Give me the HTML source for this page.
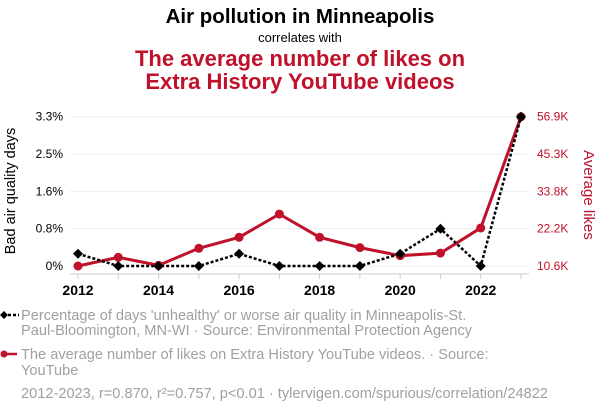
<!DOCTYPE html>
<html><head><meta charset="utf-8"><style>
body{margin:0;background:#fff;font-family:"Liberation Sans",sans-serif}
svg{display:block}
</style></head><body>
<svg id="c" width="600" height="414" viewBox="0 0 600 414">
<text x="300" y="23" text-anchor="middle" font-size="20.5" font-weight="bold" fill="#000">Air pollution in Minneapolis</text>
<text x="300" y="42" text-anchor="middle" font-size="13" fill="#000">correlates with</text>
<text x="300" y="66" text-anchor="middle" font-size="22" font-weight="bold" fill="#c0112b">The average number of likes on</text>
<text x="300" y="89" text-anchor="middle" font-size="22" font-weight="bold" fill="#c0112b">Extra History YouTube videos</text>
<g id="grid"></g>
<g id="axes"></g>
<g id="marks"></g>
<text transform="translate(15,191) rotate(-90)" text-anchor="middle" font-size="14.5" fill="#000">Bad air quality days</text>
<text transform="translate(584,195) rotate(90)" text-anchor="middle" font-size="15" fill="#c0112b">Average likes</text>
<g>
<line x1="3" y1="315" x2="19" y2="315" stroke="#000" stroke-width="2.5" stroke-dasharray="3,2"/>
<path d="M0,315 L4,311 L8,315 L4,319Z" fill="#000"/>
<text x="21" y="320" font-size="14.6" fill="#a0a0a0">Percentage of days 'unhealthy' or worse air quality in Minneapolis-St.</text>
<text x="21" y="335" font-size="14.6" fill="#a0a0a0">Paul-Bloomington, MN-WI · Source: Environmental Protection Agency</text>
</g>
<g>
<line x1="3" y1="354" x2="17" y2="354" stroke="#c0112b" stroke-width="2.5"/>
<circle cx="4" cy="354" r="3.5" fill="#c0112b"/>
<text x="21" y="359" font-size="14.6" fill="#a0a0a0">The average number of likes on Extra History YouTube videos. · Source:</text>
<text x="21" y="375" font-size="14.6" fill="#a0a0a0">YouTube</text>
</g>
<text x="21" y="398" font-size="14.6" fill="#a0a0a0">2012-2023, r=0.870, r²=0.757, p&lt;0.01 · tylervigen.com/spurious/correlation/24822</text>
</svg>
<script>
const years=[2012,2013,2014,2015,2016,2017,2018,2019,2020,2021,2022,2023];
const air=[0.27,0,0,0,0.27,0,0,0,0.27,0.82,0,3.29];
const likes=[10.6,13.3,10.8,16.1,19.5,26.7,19.5,16.3,13.8,14.6,22.4,56.9];
const leftTicks=["0%","0.8%","1.6%","2.5%","3.3%"];
const leftTickVals=[0,0.823,1.645,2.468,3.29];
const rightTicks=["10.6K","22.2K","33.8K","45.3K","56.9K"];
const rightTickVals=[10.6,22.175,33.75,45.325,56.9];
const xTicks=[2012,2014,2016,2018,2020,2022];
const NS="http://www.w3.org/2000/svg";
const X=y=>78+(y-2012)*(521-78)/11;
const YL=v=>266-v*(266-116.7)/3.29;
const YR=v=>266-(v-10.6)*(266-116.7)/(56.9-10.6);
function mk(tag,attrs,parent){const e=document.createElementNS(NS,tag);for(const k in attrs)e.setAttribute(k,attrs[k]);document.getElementById(parent).appendChild(e);return e;}
leftTickVals.forEach((v,i)=>{
 const g=mk('line',{x1:70,x2:529,y1:YL(v),y2:YL(v),stroke:'#eee','stroke-width':1},'grid');
 
 
 const t=mk('text',{x:63,y:YL(v)+4,'text-anchor':'end','font-size':12,fill:'#000'},'axes');t.textContent=leftTicks[i];
 
 
});
rightTickVals.forEach((v,i)=>{
 const t=mk('text',{x:537,y:YR(v)+4,'font-size':12,fill:'#c0112b'},'axes');t.textContent=rightTicks[i];
 
 
});
const ax=mk('line',{x1:70,x2:529,y1:274,y2:274,stroke:'#ccc'},'axes');


years.forEach(y=>{mk('line',{x1:X(y),x2:X(y),y1:274,y2:279,stroke:'#ccc'},'axes');});
xTicks.forEach(y=>{
 const t=mk('text',{x:X(y),y:295,'text-anchor':'middle','font-size':14,'font-weight':'bold',fill:'#000'},'axes');t.textContent=y;
 
 
});
const lp=mk('polyline',{points:years.map((y,i)=>X(y)+','+YR(likes[i])).join(' '),fill:'none',stroke:'#c0112b','stroke-width':3},'marks');


years.forEach((y,i)=>{
 const c=mk('circle',{cx:X(y),cy:YR(likes[i]),r:4.5,fill:'#c0112b'},'marks');
 
 
});
const ap=mk('polyline',{points:years.map((y,i)=>X(y)+','+YL(air[i])).join(' '),fill:'none',stroke:'#000','stroke-width':2.5,'stroke-dasharray':'3,2'},'marks');


years.forEach((y,i)=>{
 const x=X(y),yy=YL(air[i]);
 const d=mk('path',{d:`M${x-5},${yy} L${x},${yy-5} L${x+5},${yy} L${x},${yy+5}Z`,fill:'#000'},'marks');
 
 
});
</script>
</body></html>
